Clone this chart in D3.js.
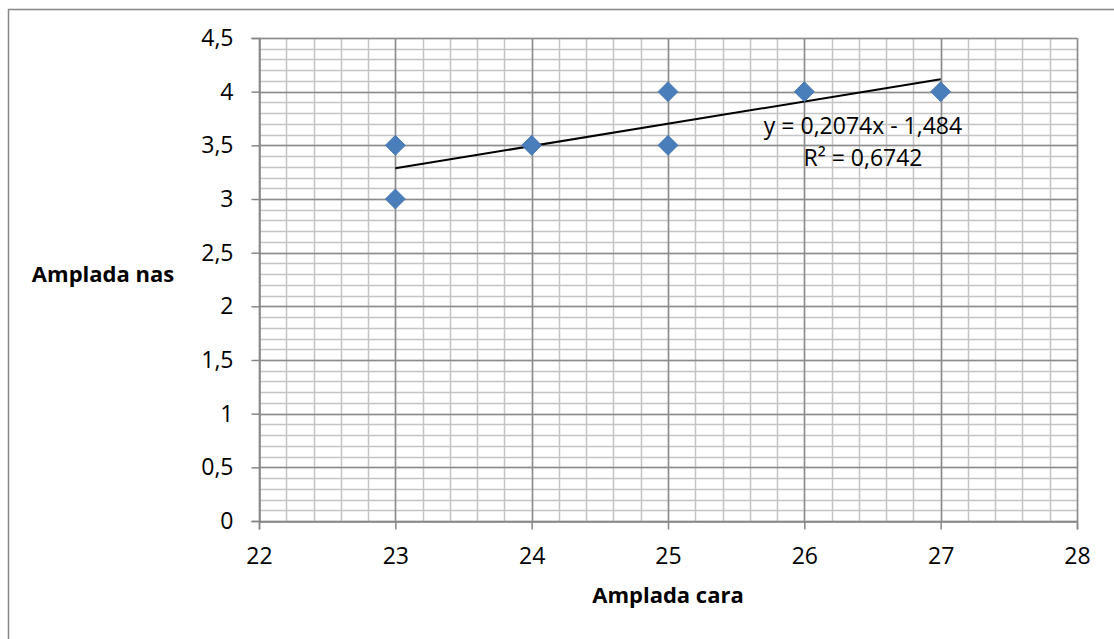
<!DOCTYPE html>
<html>
<head>
<meta charset="utf-8">
<script src="https://cdn.jsdelivr.net/npm/d3@7"></script>
<style>
  html, body { margin: 0; padding: 0; background: #fff; }
  svg { display: block; }
  text { font-family: "Open Sans", Lato, sans-serif; fill: #000; }
</style>
</head>
<body>
<svg id="chart" width="1114" height="639"></svg>
<script>
// ---- data ----
const xValues = [23, 23, 24, 25, 25, 26, 27];
const yValues = [3.5, 3, 3.5, 4, 3.5, 4, 4];
const xTicks = [22, 23, 24, 25, 26, 27, 28];
const yTicks = [0, 0.5, 1, 1.5, 2, 2.5, 3, 3.5, 4, 4.5];
const trendSlope = 0.2074;
const trendIntercept = -1.484;
const trendRange = [23, 27];
const equationLabels = ["y = 0,2074x - 1,484", "R² = 0,6742"];
const xTitle = "Amplada cara";
const yTitle = "Amplada nas";

// ---- layout ----
const svg = d3.select("#chart");
const L = 259, R = 1077, T = 38, B = 521;
const x = d3.scaleLinear().domain([22, 28]).range([L, R]);
const y = d3.scaleLinear().domain([0, 4.5]).range([B, T]);
const fmt = d => String(d).replace(".", ",");
const FONT = "'Open Sans', Lato, sans-serif";
const FS = 23, FSB = 22;

// outer chart border
svg.append("rect").attr("x", 8.5).attr("y", 9.5).attr("width", 1130).attr("height", 660)
  .attr("fill", "none").attr("stroke", "#868686").attr("stroke-width", 1.5);

// minor grid
const minorX = d3.range(22, 28.001, 0.2);
const minorY = d3.range(0, 4.5001, 0.1);
const grid = svg.append("g");
grid.selectAll("line.mx").data(minorX).join("line")
  .attr("x1", d => Math.round(x(d)) + 0.5).attr("x2", d => Math.round(x(d)) + 0.5)
  .attr("y1", T).attr("y2", B).attr("stroke", "#c4c4c4").attr("stroke-width", 1.5);
grid.selectAll("line.my").data(minorY).join("line")
  .attr("y1", d => Math.round(y(d)) + 0.5).attr("y2", d => Math.round(y(d)) + 0.5)
  .attr("x1", L).attr("x2", R).attr("stroke", "#c4c4c4").attr("stroke-width", 1.5);
// major grid
grid.selectAll("line.Mx").data(xTicks).join("line")
  .attr("x1", d => Math.round(x(d)) + 0.5).attr("x2", d => Math.round(x(d)) + 0.5)
  .attr("y1", T).attr("y2", B).attr("stroke", "#8c8c8c").attr("stroke-width", 1.5);
grid.selectAll("line.My").data(yTicks).join("line")
  .attr("y1", d => Math.round(y(d)) + 0.5).attr("y2", d => Math.round(y(d)) + 0.5)
  .attr("x1", L).attr("x2", R).attr("stroke", "#8c8c8c").attr("stroke-width", 1.5);

// axes
const xAxis = svg.append("g").attr("transform", `translate(0,${B + 0.5})`)
  .call(d3.axisBottom(x).tickValues(xTicks).tickFormat(fmt).tickSize(8).tickPadding(18));
const yAxis = svg.append("g").attr("transform", `translate(${L + 0.5},0)`)
  .call(d3.axisLeft(y).tickValues(yTicks).tickFormat(fmt).tickSize(8).tickPadding(18));
[xAxis, yAxis].forEach(a => {
  a.selectAll("path.domain").attr("stroke", "#868686").attr("stroke-width", 1.5);
  a.selectAll(".tick line").attr("stroke", "#868686").attr("stroke-width", 1.5);
  a.selectAll(".tick text").attr("font-family", FONT).attr("font-size", FS).attr("fill", "#000");
});

// trendline
svg.append("line")
  .attr("x1", x(trendRange[0])).attr("y1", y(trendSlope * trendRange[0] + trendIntercept))
  .attr("x2", x(trendRange[1])).attr("y2", y(trendSlope * trendRange[1] + trendIntercept))
  .attr("stroke", "#000").attr("stroke-width", 2);

// points
const pts = xValues.map((v, i) => [v, yValues[i]]);
svg.append("g").selectAll("path").data(pts).join("path")
  .attr("transform", d => `translate(${x(d[0])},${y(d[1])})`)
  .attr("d", "M0,-10L10,0L0,10L-10,0Z")
  .attr("fill", "#4a7ebb").attr("stroke", "#4172b0").attr("stroke-width", 0.8);

// equation labels
svg.append("g").selectAll("text").data(equationLabels).join("text")
  .attr("x", 863).attr("y", (d, i) => 134 + i * 32)
  .attr("text-anchor", "middle").attr("font-size", FS).text(d => d);

// titles
svg.append("text").attr("x", 668).attr("y", 603).attr("text-anchor", "middle")
  .attr("font-weight", "bold").attr("font-size", FSB).text(xTitle);
svg.append("text").attr("x", 103).attr("y", 282).attr("text-anchor", "middle")
  .attr("font-weight", "bold").attr("font-size", FSB).text(yTitle);
</script>
</body>
</html>
